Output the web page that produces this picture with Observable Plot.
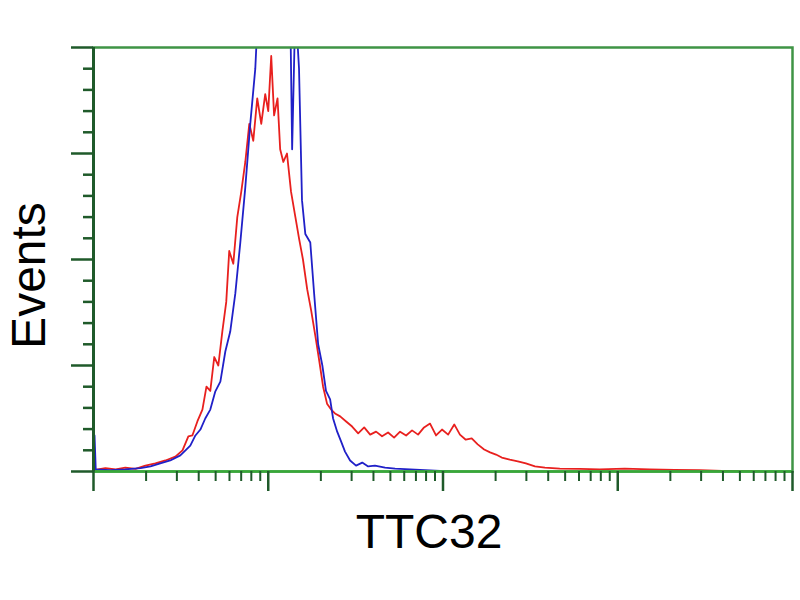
<!DOCTYPE html>
<html>
<head>
<meta charset="utf-8">
<script src="https://cdn.jsdelivr.net/npm/d3@7"></script>
<script src="https://cdn.jsdelivr.net/npm/@observablehq/plot@0.6"></script>
<style>
  html, body { margin: 0; padding: 0; background: #fff; }
  #chart { width: 800px; height: 600px; }
</style>
</head>
<body>
<div id="chart"></div>
<script>
// Control (blue) histogram
const blueX = [1.012, 1.014, 1.03, 1.25, 1.52, 1.86, 2.12, 2.41, 2.75, 3.14, 3.36, 3.58, 3.83, 4.09, 4.36, 4.66, 4.98, 5.32, 5.68, 6.06, 6.48, 6.92, 7.39, 7.89, 8.43, 8.77, 9.61, 10.97, 12.5, 13.4, 13.7, 14.3, 15.0, 15.6, 16.3, 17.4, 18.3, 19.3, 20.4, 21.4, 22.6, 23.5, 24.8, 26.1, 27.5, 29.4, 31.8, 34.5, 37.3, 40.8, 46.6, 53.2, 64.8, 78.9, 90.0, 110];
const blueY = [8.5, 8.5, 0.5, 0.3, 0.5, 0.8, 1.2, 1.9, 2.6, 3.8, 5.0, 6.1, 8.5, 9.9, 12.5, 14.6, 18.9, 21.2, 28.3, 33, 42, 54, 67, 82, 95, 110, 130, 140, 125, 105, 76, 110, 95, 64, 56, 54, 42, 30, 25, 19, 17, 12.5, 9.4, 7.1, 4.7, 2.6, 1.4, 2.1, 1.2, 1.4, 0.9, 0.7, 0.5, 0.3, 0.2, 0];

// TTC32 (red) histogram
const redX = [1.0, 1.17, 1.34, 1.52, 1.74, 1.98, 2.26, 2.58, 2.94, 3.23, 3.49, 3.68, 3.93, 4.20, 4.43, 4.66, 4.91, 5.18, 5.46, 5.75, 5.98, 6.31, 6.65, 7.01, 7.39, 7.79, 8.21, 8.65, 9.12, 9.61, 10.0, 10.4, 10.8, 11.3, 11.7, 12.2, 12.8, 13.5, 14.3, 15.0, 15.8, 16.7, 17.6, 18.6, 19.6, 20.6, 21.7, 22.9, 24.1, 25.8, 27.9, 30.2, 32.7, 35.4, 38.3, 41.4, 44.8, 48.5, 52.5, 56.8, 61.5, 66.5, 72.0, 77.9, 84.3, 91.2, 98.7, 107, 116, 125, 135, 146, 158, 172, 186, 201, 217, 241, 268, 298, 336, 383, 466, 607, 789, 1097, 1523, 2117, 2942, 4365, 6475];
const redY = [0.3, 0.8, 0.5, 0.9, 0.6, 1.4, 1.9, 2.6, 3.5, 5.0, 8.3, 8.5, 11.8, 14.6, 20, 19, 27, 25, 33, 40, 52, 49, 60, 66, 73, 82, 78, 88, 82, 89, 85, 98, 84, 88, 76, 73, 75, 66, 60, 55, 50, 43, 38, 32, 26, 20, 16, 14.6, 13.7, 13.0, 11.8, 10.6, 9.0, 10.4, 8.7, 9.4, 8.3, 9.2, 8.0, 9.4, 8.5, 9.7, 8.7, 10.4, 11.3, 8.5, 9.9, 8.7, 11.1, 8.7, 7.5, 7.8, 6.4, 5.2, 4.5, 4.0, 3.3, 2.8, 2.4, 1.9, 1.2, 0.9, 0.7, 0.6, 0.5, 0.7, 0.5, 0.4, 0.3, 0.1, 0.05];

// Axis ticks
const xMajorTicks = [1, 10, 100, 1000, 10000];
const xMinorTicks = [2, 3, 4, 5, 6, 7, 8, 9, 20, 30, 40, 50, 60, 70, 80, 90, 200, 300, 400, 500, 600, 700, 800, 900, 2000, 3000, 4000, 5000, 6000, 7000, 8000, 9000];
const yMajorTicks = [0, 25, 50, 75, 100];
const yMinorTicks = [5, 10, 15, 20, 30, 35, 40, 45, 55, 60, 65, 70, 80, 85, 90, 95];

const xLabel = "TTC32";
const yLabel = "Events";

const blue = blueX.map((x, i) => ({x, y: blueY[i]}));
const red = redX.map((x, i) => ({x, y: redY[i]}));

const frameGreen = "#3f9445";
const axisDark = "#1f5a2a";
const font = "'Liberation Sans', Arial, sans-serif";
const noLabel = () => "";

const chart = Plot.plot({
  width: 800,
  height: 600,
  marginLeft: 93,
  marginRight: 8,
  marginTop: 47,
  marginBottom: 129,
  style: {fontFamily: font, background: "#fff"},
  x: {type: "log", domain: [1, 10000]},
  y: {domain: [0, 100]},
  marks: [
    Plot.line(red, {x: "x", y: "y", stroke: "#e8201e", strokeWidth: 1.8, clip: true}),
    Plot.line(blue, {x: "x", y: "y", stroke: "#2020c8", strokeWidth: 1.8, clip: true}),
    Plot.frame({stroke: frameGreen, strokeWidth: 2.5}),
    Plot.ruleY([0], {stroke: "#38a838", strokeWidth: 2.5}),
    Plot.ruleX([1], {stroke: axisDark, strokeWidth: 3}),
    Plot.axisY(yMajorTicks, {tickSize: 22, tickFormat: noLabel, label: null, stroke: axisDark, strokeWidth: 2.5}),
    Plot.axisY(yMinorTicks, {tickSize: 10, tickFormat: noLabel, label: null, stroke: axisDark, strokeWidth: 2.5}),
    Plot.axisX(xMajorTicks, {tickSize: 20, tickFormat: noLabel, label: null, stroke: axisDark, strokeWidth: 2.5}),
    Plot.axisX(xMinorTicks, {tickSize: 10, tickFormat: noLabel, label: null, stroke: axisDark, strokeWidth: 2}),
    Plot.text([yLabel], {frameAnchor: "left", textAnchor: "middle", lineAnchor: "middle", rotate: -90, dx: -64, dy: 16, fontSize: 48, fill: "#000", text: d => d}),
    Plot.text([xLabel], {frameAnchor: "bottom", textAnchor: "middle", lineAnchor: "middle", dx: -14, dy: 61, fontSize: 48, fill: "#000", text: d => d})
  ]
});
document.getElementById("chart").appendChild(chart);
</script>
</body>
</html>
